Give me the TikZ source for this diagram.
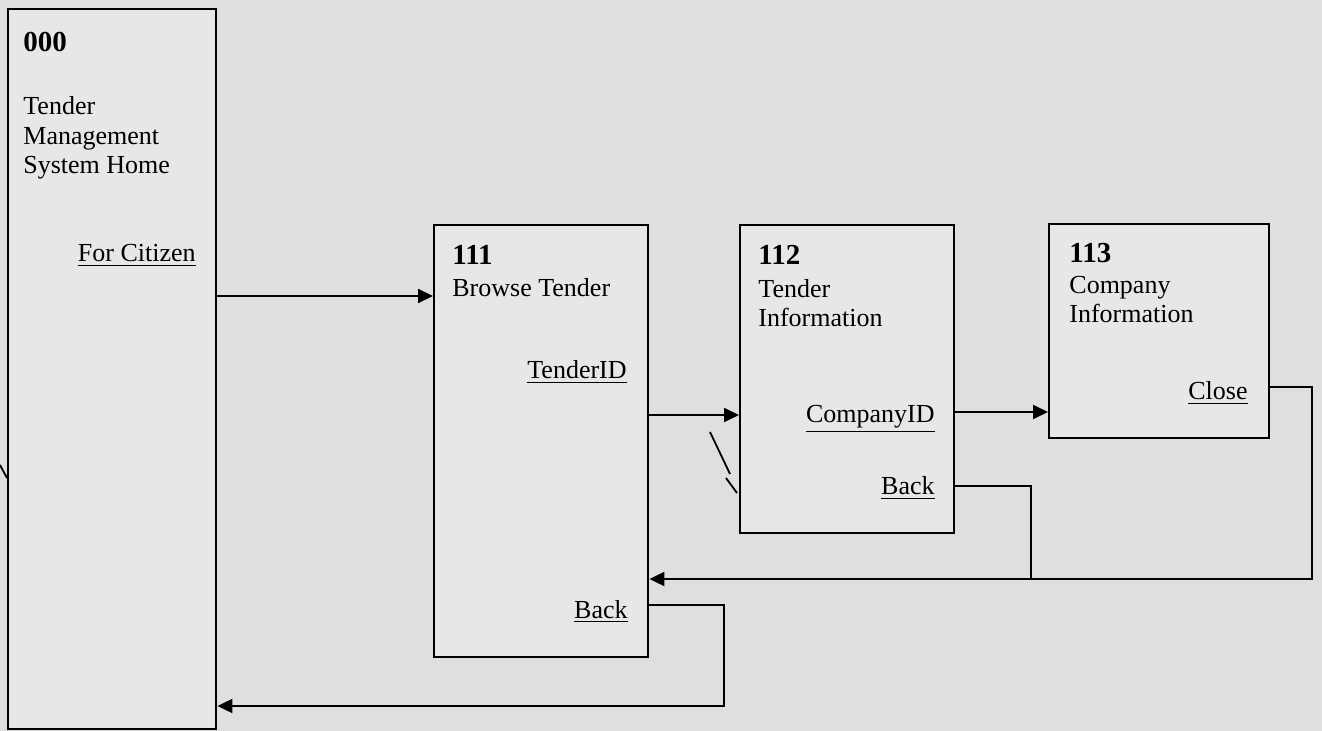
\documentclass[tikz,border=0pt]{standalone}
\usepackage{fontspec}
\setmainfont{Liberation Serif}
\usetikzlibrary{arrows.meta}
\definecolor{paper}{RGB}{222,224,221}
\definecolor{boxfill}{RGB}{231,232,230}
\tikzset{
  screen/.style={draw=black, line width=1.2pt, fill=boxfill, anchor=north west, inner sep=0pt},
  label/.style={anchor=base west, inner sep=0pt, font=\fontsize{13}{14.8}\selectfont, align=left},
  title/.style={anchor=base west, inner sep=0pt, font=\fontsize{14.5}{16}\selectfont\bfseries},
  link/.style={anchor=base east, inner sep=0pt, font=\fontsize{13}{14.8}\selectfont},
  wire/.style={draw=black, line width=1pt},
  arr/.style={wire, -{Triangle[length=7.5pt,width=7pt]}},
  penmark/.style={draw=black, line width=0.9pt}
}
\begin{document}
\begin{tikzpicture}[x=0.5pt,y=-0.5pt]
\fill[paper] (0,0) rectangle (1322,731);
\useasboundingbox (0,0) rectangle (1322,731);

% screens
\node[screen, minimum width=104pt, minimum height=360pt] (b000) at (7,8) {};
\node[screen, minimum width=107pt, minimum height=216pt] (b111) at (433,224) {};
\node[screen, minimum width=107pt, minimum height=154pt] (b112) at (739,224) {};
\node[screen, minimum width=110pt, minimum height=107pt] (b113) at (1048,223) {};

% texts of 000 (base of a multi-line node = its last line)
\node[title] (t000) at (23,52) {000};
\node[label] (n000) at (23,174) {Tender\\Management\\System Home};
\node[link] (citizen) at (196,262) {\underline{For Citizen}};

% texts of 111
\node[title] (t111) at (452,265) {111};
\node[label] (n111) at (452,297) {Browse Tender};
\node[link] (tenderid) at (627,379) {\underline{TenderID}};
\node[link] (back111) at (628,618) {\underline{Back}};

% texts of 112
\node[title] (t112) at (758,265) {112};
\node[label] (n112) at (758,327) {Tender\\Information};
\node[link] (companyid) at (935,423) {\underline{CompanyID}};
\node[link] (back112) at (935,495) {\underline{Back}};

% texts of 113
\node[title] (t113) at (1069,263) {113};
\node[label] (n113) at (1069,323) {Company\\Information};
\node[link] (close) at (1248,400) {\underline{Close}};

% levels of the connectors
\coordinate (y1) at (0,296);
\coordinate (y2) at (0,415);
\coordinate (y3) at (0,412);
\coordinate (y4) at (0,387);
\coordinate (y5) at (0,486);
\coordinate (y6) at (0,579);
\coordinate (y7) at (0,605);
\coordinate (y8) at (0,706);
\coordinate (xr) at (1312,0);
\coordinate (xm) at (1031,0);
\coordinate (xb) at (724,0);

% forward links
\draw[arr] (b000.east |- y1) -- (b111.west |- y1);
\draw[arr] (b111.east |- y2) -- (b112.west |- y2);
\draw[arr] (b112.east |- y3) -- (b113.west |- y3);

% back links
\draw[arr] (b113.east |- y4) -- (xr |- y4) -- (xr |- y6) -- (b111.east |- y6);
\draw[wire] (b112.east |- y5) -- (xm |- y5) -- (xm |- y6);
\draw[arr] (b111.east |- y7) -- (xb |- y7) -- (xb |- y8) -- (b000.east |- y8);

% stray pen marks
\draw[penmark] (710,432) -- (730,474);
\draw[penmark] (726,478) -- (737,493);
\draw[penmark] (0,465) -- (7,478);
\end{tikzpicture}
\end{document}
